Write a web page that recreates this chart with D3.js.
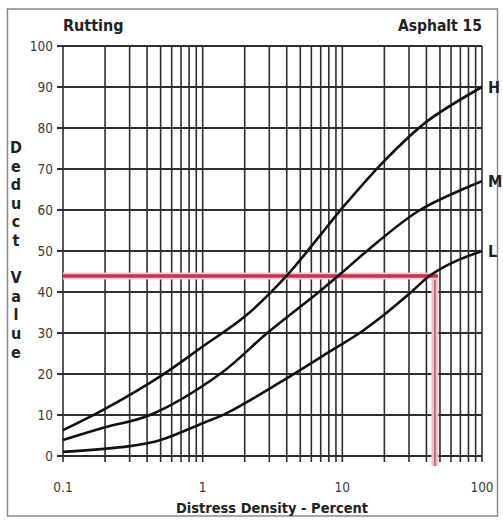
<!DOCTYPE html>
<html>
<head>
<meta charset="utf-8">
<script src="https://cdn.jsdelivr.net/npm/d3@7"></script>
<style>
  body { margin: 0; background: #fff; }
  svg text { font-family: "DejaVu Sans Condensed", "Liberation Sans Narrow", "DejaVu Sans", sans-serif; }
</style>
</head>
<body>
<div id="chart"></div>
<script>
//Datos
const xTicks = [0.1, 1, 10, 100];
const yTicks = [0, 10, 20, 30, 40, 50, 60, 70, 80, 90, 100];
const yLetters = ['D', 'e', 'd', 'u', 'c', 't', '', 'V', 'a', 'l', 'u', 'e'];

const densH = [0.1, 0.2, 0.5, 1, 2, 4, 7, 10, 20, 40, 100];
const valH  = [6.3, 11.5, 19.5, 26.7, 34, 44, 54, 60.5, 72, 81.5, 90];

const densM = [0.1, 0.2, 0.42, 1.33, 2.9, 6.8, 10, 15, 36, 100];
const valM  = [3.9, 7, 10, 20, 30, 40, 44.8, 50, 60, 67];

const densL = [0.1, 0.3, 0.5, 1, 1.5, 3.6, 8.6, 13.3, 20, 30, 42, 60, 100];
const valL  = [1, 2.4, 3.9, 8, 10.5, 18, 26, 30, 34.5, 39.5, 43.9, 47, 50];

const series = [
    {name: 'H', dens: densH, vals: valH},
    {name: 'M', dens: densM, vals: valM},
    {name: 'L', dens: densL, vals: valL}
];

//Lectura ejemplo (línea roja)
const readDensity = 46;
const readValue = 43.9;

let W = 503, H = 521;
let margin = {top: 46, right: 21, bottom: 65, left: 63};

let svg = d3.select('#chart')
    .append('svg')
        .attr('width', W)
        .attr('height', H);

//Marco exterior
svg.append('rect')
    .attr('x', 7.5).attr('y', 9)
    .attr('width', 490).attr('height', 507)
    .attr('fill', 'none')
    .attr('stroke', '#8a8a8a')
    .attr('stroke-width', 1.5);

let x = d3.scaleLog()
    .domain([0.1, 100])
    .range([margin.left, W - margin.right]);

let y = d3.scaleLinear()
    .domain([0, 100])
    .range([H - margin.bottom, margin.top]);

let y0 = y(0), y100 = y(100);

//Rejilla vertical (logarítmica)
let minor = [];
for (let e = -1; e < 2; e++) {
    for (let k = 1; k < 10; k++) minor.push(k * Math.pow(10, e));
}
minor.push(100);

svg.append('g')
    .selectAll('line')
    .data(minor)
    .enter()
    .append('line')
    .attr('x1', function(d) { return x(d); })
    .attr('x2', function(d) { return x(d); })
    .attr('y1', y100)
    .attr('y2', y0 + 6)
    .attr('stroke', '#2e2e2e')
    .attr('stroke-width', 1.6);

//Rejilla horizontal
svg.append('g')
    .selectAll('line')
    .data(yTicks)
    .enter()
    .append('line')
    .attr('x1', x(0.1) - 6)
    .attr('x2', x(100))
    .attr('y1', function(d) { return y(d); })
    .attr('y2', function(d) { return y(d); })
    .attr('stroke', '#2e2e2e')
    .attr('stroke-width', 1.8);

//Etiquetas eje Y
svg.append('g')
    .selectAll('text')
    .data(yTicks)
    .enter()
    .append('text')
    .attr('x', x(0.1) - 10)
    .attr('y', function(d) { return y(d) + 5; })
    .attr('text-anchor', 'end')
    .attr('font-size', 13.5)
    .attr('fill', '#3a3a3a')
    .text(function(d) { return d; });

//Etiquetas eje X
svg.append('g')
    .selectAll('text')
    .data(xTicks)
    .enter()
    .append('text')
    .attr('x', function(d) { return x(d); })
    .attr('y', 492)
    .attr('text-anchor', 'middle')
    .attr('font-size', 13.5)
    .attr('fill', '#3a3a3a')
    .text(function(d) { return d; });

//Línea roja de lectura
svg.append('line')
    .attr('x1', x(readDensity)).attr('x2', x(readDensity))
    .attr('y1', y(readValue)).attr('y2', y0 + 10)
    .attr('stroke', '#eec3cc')
    .attr('stroke-width', 7);
svg.append('line')
    .attr('x1', x(readDensity)).attr('x2', x(readDensity))
    .attr('y1', y(readValue)).attr('y2', y0 + 10)
    .attr('stroke', '#c66078')
    .attr('stroke-width', 1.8);
svg.append('line')
    .attr('x1', x(0.1)).attr('x2', x(readDensity) + 3)
    .attr('y1', y(readValue)).attr('y2', y(readValue))
    .attr('stroke', '#f2c9d2')
    .attr('stroke-width', 7);
svg.append('line')
    .attr('x1', x(0.1)).attr('x2', x(readDensity) + 3)
    .attr('y1', y(readValue)).attr('y2', y(readValue))
    .attr('stroke', '#c4334f')
    .attr('stroke-width', 3.5);

//Curvas
let line = d3.line()
    .x(function(d) { return x(d[0]); })
    .y(function(d) { return y(d[1]); })
    .curve(d3.curveCatmullRom.alpha(0.5));

series.forEach(function(s) {
    let pts = s.dens.map(function(d, i) { return [d, s.vals[i]]; });
    svg.append('path')
        .datum(pts)
        .attr('fill', 'none')
        .attr('stroke', '#111')
        .attr('stroke-width', 2.6)
        .attr('d', line);

    svg.append('text')
        .attr('x', x(100) + 6)
        .attr('y', y(s.vals[s.vals.length - 1]) + 6)
        .attr('font-size', 16)
        .attr('font-weight', 'bold')
        .attr('fill', '#222')
        .text(s.name);
});

//Títulos
svg.append('text')
    .attr('x', 63)
    .attr('y', 31)
    .attr('font-size', 16)
    .attr('font-weight', 'bold')
    .attr('fill', '#222')
    .text('Rutting');

svg.append('text')
    .attr('x', 482)
    .attr('y', 31)
    .attr('text-anchor', 'end')
    .attr('font-size', 15.5)
    .attr('font-weight', 'bold')
    .attr('fill', '#222')
    .text('Asphalt 15');

svg.append('text')
    .attr('x', 272)
    .attr('y', 513)
    .attr('text-anchor', 'middle')
    .attr('font-size', 14.5)
    .attr('font-weight', 'bold')
    .attr('fill', '#222')
    .text('Distress Density - Percent');

//Eje Y en letras apiladas
svg.append('g')
    .selectAll('text')
    .data(yLetters)
    .enter()
    .append('text')
    .attr('x', 16)
    .attr('y', function(d, i) { return 153 + i * 18.6; })
    .attr('text-anchor', 'middle')
    .attr('font-size', 16)
    .attr('font-weight', 'bold')
    .attr('fill', '#222')
    .text(function(d) { return d; });
</script>
</body>
</html>
